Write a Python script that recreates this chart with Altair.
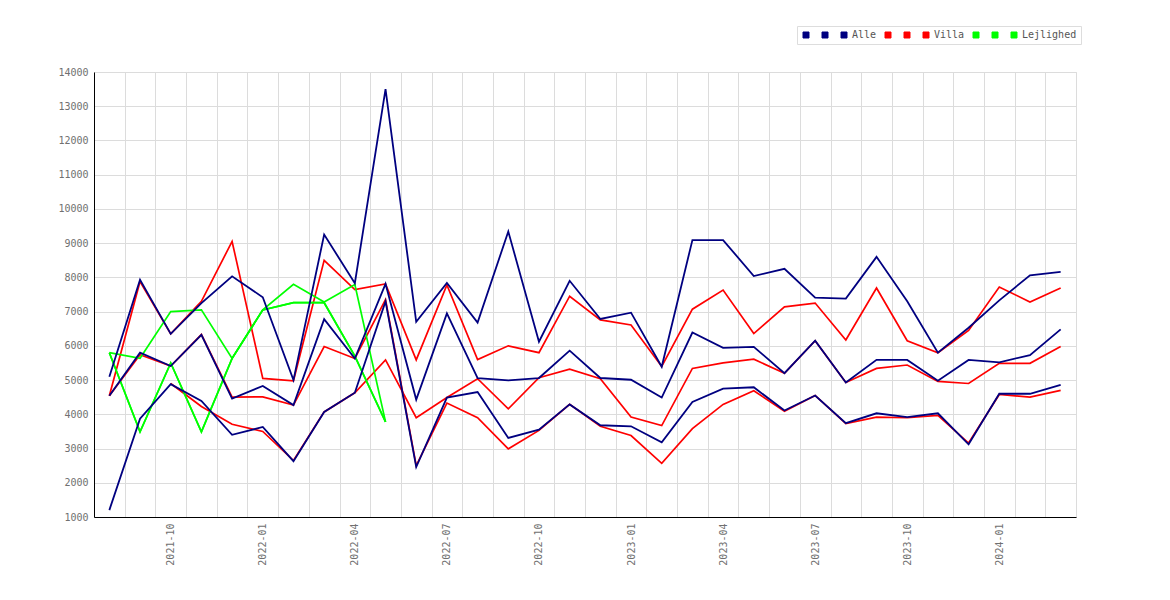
import altair as alt
import pandas as pd

months = ["2021-08", "2021-09", "2021-10", "2021-11", "2021-12",
          "2022-01", "2022-02", "2022-03", "2022-04", "2022-05", "2022-06",
          "2022-07", "2022-08", "2022-09", "2022-10", "2022-11", "2022-12",
          "2023-01", "2023-02", "2023-03", "2023-04", "2023-05", "2023-06",
          "2023-07", "2023-08", "2023-09", "2023-10", "2023-11", "2023-12",
          "2024-01", "2024-02", "2024-03"]

alle_1 = [5100, 7930, 6350, 7250, 8030, 7420, 5000, 9250, 7830, 13500, 6700,
          7840, 6680, 9340, 6120, 7900, 6785, 6970, 5390, 9090, 9090, 8040,
          8250, 7410, 7380, 8600, 7300, 5800, 6530, 7330, 8060, 8160]
alle_2 = [4540, 5800, 5410, 6320, 4460, 4830, 4270, 6780, 5630, 7810, 4430,
          6950, 5060, 4990, 5060, 5860, 5060, 5010, 4490, 6390, 5940, 5970,
          5200, 6150, 4930, 5590, 5590, 4980, 5590, 5520, 5730, 6480]
alle_3 = [1200, 3870, 4880, 4390, 3400, 3630, 2630, 4070, 4630, 7300, 2460,
          4490, 4650, 3310, 3550, 4290, 3680, 3650, 3180, 4360, 4750, 4790,
          4110, 4550, 3740, 4030, 3920, 4030, 3125, 4600, 4600, 4860]

villa_1 = [4540, 7880, 6350, 7300, 9050, 5050, 4980, 8500, 7640, 7810, 5590,
           7780, 5600, 6000, 5800, 7450, 6760, 6610, 5400, 7070, 7630, 6360,
           7140, 7250, 6170, 7690, 6150, 5800, 6450, 7720, 7280, 7690]
villa_2 = [4540, 5740, 5410, 6330, 4500, 4510, 4270, 5980, 5630, 7350, 2500,
           4330, 3900, 2990, 3530, 4290, 3650, 3380, 2570, 3580, 4290, 4690,
           4090, 4550, 3730, 3920, 3900, 3970, 3160, 4580, 4500, 4700]
villa_3 = [None, None, 4900, 4230, 3710, 3500, 2650, 4070, 4630, 5590, 3900,
           4490, 5040, 4160, 5070, 5320, 5040, 3920, 3670, 5340, 5500, 5610,
           5200, 6150, 4930, 5340, 5440, 4960, 4900, 5490, 5490, 5980]

lej_1 = [5800, 5635, 7000, 7050, 5635, 7050, 7800, 7280, 7790, 3780]
lej_2 = [5800, 3490, 5500, 3490, 5635, 7050, 7260, 7260, 5700, 3780]
lej_3 = [5800, 3490, 5500, 3490, 5635, 7050, 7260, 7260, 5700, 3780]

y_ticks = [1000, 2000, 3000, 4000, 5000, 6000, 7000, 8000, 9000, 10000,
           11000, 12000, 13000, 14000]

series_keys = ["a1", "a2", "a3", "v1", "v2", "v3", "l1", "l2", "l3"]
series_colors = ["#000080", "#000080", "#000080",
                 "#ff0000", "#ff0000", "#ff0000",
                 "#00ff00", "#00ff00", "#00ff00"]

rows = []
def add(group, key, vals):
    for m, v in zip(months, vals):
        if v is not None:
            rows.append({"month": m, "value": v, "series": key, "group": group})

add("Alle", "a1", alle_1)
add("Alle", "a2", alle_2)
add("Alle", "a3", alle_3)
add("Villa", "v1", villa_1)
add("Villa", "v2", villa_2)
add("Villa", "v3", villa_3)
add("Lejlighed", "l1", lej_1)
add("Lejlighed", "l2", lej_2)
add("Lejlighed", "l3", lej_3)
df = pd.DataFrame(rows)

FONT = "DejaVu Sans Mono"
label_expr_x = ("isString(datum.value) && (slice(datum.value,5)=='01'||slice(datum.value,5)=='04'||"
                "slice(datum.value,5)=='07'||slice(datum.value,5)=='10') ? datum.value : ''")
legend_label_expr = ("datum.value=='a3' ? 'Alle' : datum.value=='v3' ? 'Villa' : "
                     "datum.value=='l3' ? 'Lejlighed' : ' '")

x = alt.X("month:O",
          scale=alt.Scale(type="band", domain=months, paddingInner=0, paddingOuter=0),
          axis=alt.Axis(title=None, labelAngle=270, tickBand="extent", ticks=False,
                        domainColor="#000000", gridColor="#dcdcdc", grid=True,
                        labelExpr=label_expr_x, labelOverlap=False, labelPadding=6,
                        labelFont=FONT, labelFontSize=10, labelColor="#707070"))
y = alt.Y("value:Q",
          scale=alt.Scale(domain=[1000, 14000], nice=False, zero=False),
          axis=alt.Axis(title=None, values=y_ticks, ticks=False, domainColor="#000000",
                        gridColor="#dcdcdc", labelPadding=6, labelFont=FONT,
                        labelFontSize=10, labelColor="#707070", format="d"))
color = alt.Color("series:N",
                  scale=alt.Scale(domain=series_keys, range=series_colors),
                  legend=None)
fill = alt.Fill("series:N",
                scale=alt.Scale(domain=series_keys, range=series_colors),
                legend=alt.Legend(orient="none", legendX=703, legendY=-46,
                                  direction="horizontal", title=None,
                                  symbolType="square", symbolSize=36,
                                  symbolStrokeWidth=1, symbolStrokeColor="#555555",
                                  symbolOpacity=1,
                                  labelExpr=legend_label_expr, labelFont=FONT,
                                  labelFontSize=10, labelColor="#555555",
                                  labelOffset=3, columnPadding=6, padding=4,
                                  strokeColor="#dddddd", fillColor="#ffffff"))

base = alt.Chart(df)
def layer(group, width):
    return base.transform_filter(alt.datum.group == group).mark_line(
        strokeWidth=width).encode(x=x, y=y, color=color, detail="series:N")

legend_layer = base.mark_square(filled=True, size=36, opacity=0).encode(
    x=x, y=y, fill=fill)

chart = alt.layer(
    legend_layer,
    layer("Villa", 1.7),
    layer("Lejlighed", 1.7),
    layer("Alle", 1.8),
).properties(
    width=982, height=445,
    autosize=alt.AutoSizeParams(type="none"),
    padding={"left": 86, "top": 64, "right": 86, "bottom": 75},
).configure_view(stroke=None).configure(font=FONT)

chart.save("out.html", embed_options={"renderer": "svg", "actions": False})
